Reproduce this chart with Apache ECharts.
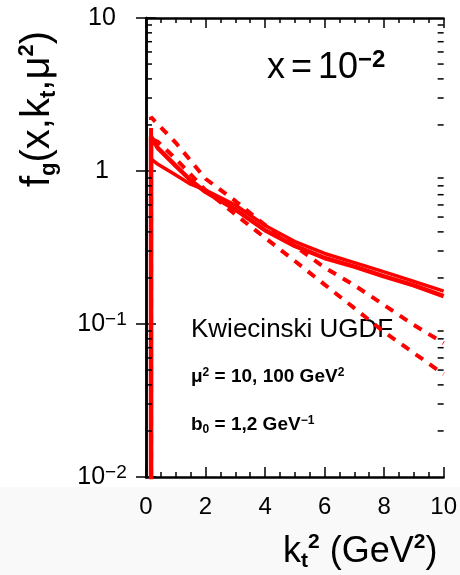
<!DOCTYPE html>
<html><head><meta charset="utf-8">
<script src="https://cdn.jsdelivr.net/npm/echarts@6/dist/echarts.min.js"></script>
<style>html,body{margin:0;padding:0;background:#fff}#c{width:460px;height:575px}</style>
</head><body><div id="c"></div>
<script>
// ---- data ----
const solidA_x = [0.17, 0.17, 0.4, 1, 1.5, 2, 3, 4, 5, 6, 7, 8, 9, 10];
const solidA_y = [0.001, 1.68, 1.41, 1.08, 0.87, 0.73, 0.56, 0.41, 0.324, 0.27, 0.237, 0.205, 0.179, 0.152];
const solidB_x = [0.17, 0.17, 0.36, 1, 1.5, 2, 3, 4, 5, 6, 7, 8, 9, 10];
const solidB_y = [0.001, 1.2, 1.12, 0.94, 0.82, 0.75, 0.60, 0.44, 0.346, 0.289, 0.252, 0.219, 0.19, 0.164];
const dashC_x = [0.17, 0.17, 1, 2, 3, 4, 5, 6, 7, 8, 9, 10];
const dashC_y = [0.001, 2.25, 1.53, 0.89, 0.637, 0.444, 0.323, 0.234, 0.179, 0.133, 0.0985, 0.075];
const dashD_x = [0.17, 0.17, 0.4, 1, 2, 3, 4, 5, 6, 7, 8, 9, 10];
const dashD_y = [0.001, 1.62, 1.55, 1.2, 0.75, 0.52, 0.366, 0.258, 0.181, 0.127, 0.0887, 0.0646, 0.047];

const xMin = 0, xMax = 10, xInterval = 2;
const yMin = 0.01, yMax = 10;
const yTickExponents = [-2, -1, 0, 1];
const yTickLabels = ['{n|10}{s|−2}', '{n|10}{s|−1}', '{n|1}', '{n|10}'];
const yMinorTicks = [0.02,0.03,0.04,0.05,0.06,0.07,0.08,0.09,0.2,0.3,0.4,0.5,0.6,0.7,0.8,0.9,2,3,4,5,6,7,8,9];

const RED = '#ff0000';
const FONT = 'Liberation Sans, Arial, sans-serif';
const pairs = (xs, ys) => xs.map((x, i) => [x, ys[i]]);

const chart = echarts.init(document.getElementById('c'), null, {renderer: 'canvas'});

const tickStyle = {color: '#000', width: 1.5};
const axisLineStyle = {show: true, lineStyle: {color: '#000', width: 2.5}};

const option = {
  backgroundColor: '#ffffff',
  animation: false,
  grid: {left: 146, top: 18, right: 16, bottom: 98, containLabel: false},
  xAxis: [
    {type: 'value', min: xMin, max: xMax, interval: xInterval, position: 'bottom',
     axisLine: axisLineStyle,
     axisTick: {show: true, inside: true, length: 10, lineStyle: tickStyle},
     minorTick: {show: true, splitNumber: 4, length: 5, lineStyle: tickStyle},
     splitLine: {show: false}, minorSplitLine: {show: false},
     axisLabel: {show: true, margin: 18, fontSize: 24, color: '#000', fontFamily: FONT,
       formatter: v => String(v)}},
    {type: 'value', min: xMin, max: xMax, interval: xInterval, position: 'top',
     axisLine: axisLineStyle,
     axisTick: {show: true, inside: true, length: 10, lineStyle: tickStyle},
     minorTick: {show: true, splitNumber: 4, length: 5, lineStyle: tickStyle},
     splitLine: {show: false}, axisLabel: {show: false}}
  ],
  yAxis: [
    {type: 'log', logBase: 10, min: yMin, max: yMax, splitNumber: 3, position: 'left',
     axisLine: axisLineStyle,
     axisTick: {show: true, inside: true, length: 10, lineStyle: tickStyle},
     splitLine: {show: false},
     axisLabel: {show: true, margin: 44, align: 'center', color: '#000', fontFamily: FONT,
       formatter: v => {
         const e = Math.round(Math.log10(v));
         const i = yTickExponents.indexOf(e);
         return i >= 0 ? yTickLabels[i] : '';
       },
       rich: {
         n: {fontSize: 25, lineHeight: 28, fontFamily: FONT, color: '#000'},
         s: {fontSize: 19, lineHeight: 19, verticalAlign: 'top', fontFamily: FONT, color: '#000'}
       }}},
    {type: 'log', logBase: 10, min: yMin, max: yMax, splitNumber: 3, position: 'right',
     axisLine: axisLineStyle,
     axisTick: {show: true, inside: true, length: 10, lineStyle: tickStyle},
     splitLine: {show: false}, axisLabel: {show: false}}
  ],
  series: [
    {type: 'custom', name: 'yMinor', coordinateSystem: 'cartesian2d', xAxisIndex: 0, yAxisIndex: 0,
     silent: true, clip: false, z: 5,
     data: yMinorTicks.map(v => [0, v]),
     renderItem: (params, api) => {
       const y = api.coord([0, api.value(1)])[1];
       const cs = params.coordSys;
       return {type: 'group', children: [
         {type: 'line', shape: {x1: cs.x, y1: y, x2: cs.x + 6, y2: y}, style: {stroke: '#000', lineWidth: 1.5}},
         {type: 'line', shape: {x1: cs.x + cs.width - 6, y1: y, x2: cs.x + cs.width, y2: y}, style: {stroke: '#000', lineWidth: 1.5}}
       ]};
     }},
    {type: 'line', name: 'dashC', data: pairs(dashC_x, dashC_y), showSymbol: false, symbol: 'none',
     clip: true, z: 2, lineStyle: {color: RED, width: 4, type: [9, 8], cap: 'butt'}},
    {type: 'line', name: 'dashD', data: pairs(dashD_x, dashD_y), showSymbol: false, symbol: 'none',
     clip: true, z: 2, lineStyle: {color: RED, width: 4, type: [9, 8], cap: 'butt'}},
    {type: 'line', name: 'solidB', data: pairs(solidB_x, solidB_y), showSymbol: false, symbol: 'none',
     clip: true, z: 3, lineStyle: {color: RED, width: 3.5}},
    {type: 'line', name: 'solidA', data: pairs(solidA_x, solidA_y), showSymbol: false, symbol: 'none',
     clip: true, z: 3, lineStyle: {color: RED, width: 4.5}}
  ],
  graphic: {elements: [
    {type: 'rect', z: -10, silent: true, shape: {x: 0, y: 487, width: 460, height: 88}, style: {fill: '#f9f9f9'}},
    {type: 'text', x: 267, y: 68, silent: true, style: {
      text: '{a|x}{e|=}{a|10}{s|−2}', verticalAlign: 'middle', align: 'left', fill: '#000',
      rich: {
        a: {fontSize: 36, lineHeight: 40, fontFamily: FONT, fill: '#000'},
        e: {fontSize: 36, lineHeight: 40, fontFamily: FONT, fill: '#000', padding: [0, 6, 0, 6]},
        s: {fontSize: 24, lineHeight: 24, verticalAlign: 'top', fontFamily: FONT, fill: '#000', fontWeight: 'bold'}
      }}},
    {type: 'text', x: 191, y: 330, silent: true, style: {
      text: 'Kwiecinski UGDF', fontSize: 26, fontFamily: FONT, fill: '#000', verticalAlign: 'middle', align: 'left'}},
    {type: 'text', x: 191, y: 377, silent: true, style: {
      text: '{b|μ}{s|2}{b| = 10, 100 GeV}{s|2}', verticalAlign: 'middle', align: 'left', fill: '#000',
      rich: {
        b: {fontSize: 19, lineHeight: 21, fontFamily: FONT, fill: '#000', fontWeight: 'bold'},
        s: {fontSize: 12, lineHeight: 12, verticalAlign: 'top', fontFamily: FONT, fill: '#000', fontWeight: 'bold'}
      }}},
    {type: 'text', x: 191, y: 425, silent: true, style: {
      text: '{b|b}{u|0}{b| = 1,2 GeV}{s|−1}', verticalAlign: 'middle', align: 'left', fill: '#000',
      rich: {
        b: {fontSize: 19, lineHeight: 21, fontFamily: FONT, fill: '#000', fontWeight: 'bold'},
        s: {fontSize: 12, lineHeight: 12, verticalAlign: 'top', fontFamily: FONT, fill: '#000', fontWeight: 'bold'},
        u: {fontSize: 12, lineHeight: 12, verticalAlign: 'bottom', fontFamily: FONT, fill: '#000', fontWeight: 'bold'}
      }}},
    {type: 'text', x: 283, y: 552, silent: true, style: {
      text: '{b|k}{u|t}{s|2}{b| (GeV}{s|2}{b|)}', verticalAlign: 'middle', align: 'left', fill: '#000',
      rich: {
        b: {fontSize: 36, lineHeight: 40, fontFamily: FONT, fill: '#000'},
        s: {fontSize: 21, lineHeight: 21, verticalAlign: 'top', fontFamily: FONT, fill: '#000', fontWeight: 'bold'},
        u: {fontSize: 21, lineHeight: 21, verticalAlign: 'bottom', fontFamily: FONT, fill: '#000', fontWeight: 'bold'}
      }}},
    {type: 'text', x: 38, y: 109, rotation: Math.PI / 2, silent: true, style: {
      text: '{b|f}{u|g}{b|(x,k}{u|t}{b|,μ}{s|2}{b|)}', verticalAlign: 'middle', align: 'center', fill: '#000',
      rich: {
        b: {fontSize: 40, lineHeight: 44, fontFamily: FONT, fill: '#000'},
        s: {fontSize: 22, lineHeight: 22, verticalAlign: 'top', fontFamily: FONT, fill: '#000', fontWeight: 'bold'},
        u: {fontSize: 22, lineHeight: 22, verticalAlign: 'bottom', fontFamily: FONT, fill: '#000', fontWeight: 'bold'}
      }}}
  ]}
};
chart.setOption(option);
</script>
</body></html>
